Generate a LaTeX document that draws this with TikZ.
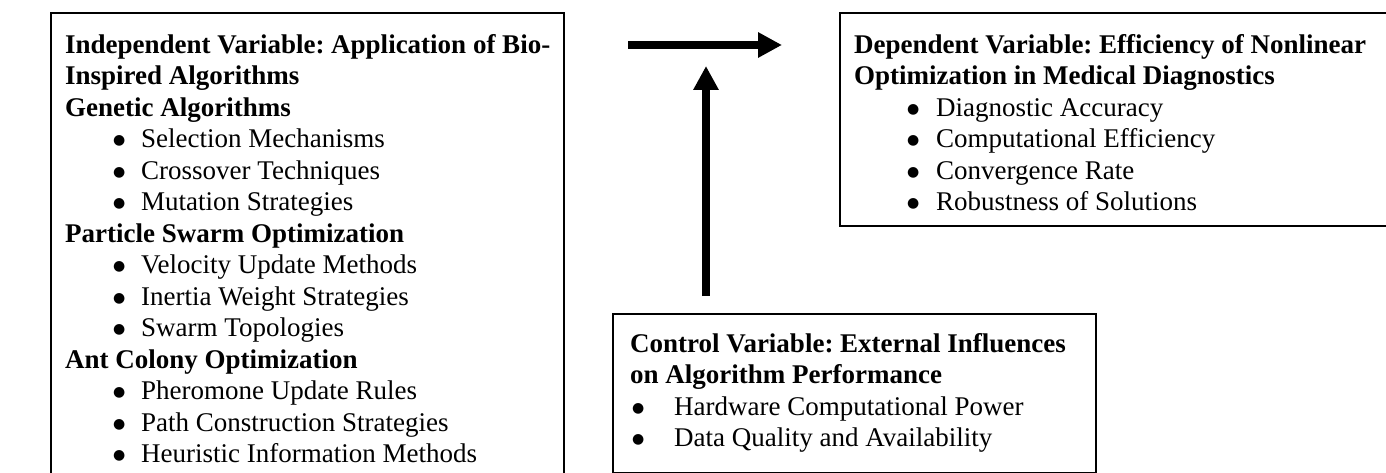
\documentclass[tikz,border=0pt]{standalone}
\usepackage{fontspec}
\setmainfont{Liberation Serif}
\newfontfamily\bulletfont{DejaVu Sans}
\usetikzlibrary{arrows.meta}
\frenchspacing

% bullet line: bullet offset, gap to text, text
\newcommand{\bul}[3]{\hspace*{#1}\makebox[#2][l]{\raisebox{3pt}{\bulletfont\fontsize{14}{14}\selectfont ●}}#3}

\begin{document}
\begin{tikzpicture}[x=1pt, y=-1pt,
    box/.style={rectangle, draw, line width=1.6pt,
                anchor=north west, inner sep=0pt},
    txt/.style={anchor=north west, align=left, inner sep=0pt,
                font=\fontsize{27}{31.5}\selectfont},
    bigarrow/.style={line width=8pt,
                -{Triangle[length=24pt, width=24pt]}}
]
    \useasboundingbox (0,0) rectangle (1386,473);

    % Independent variable
    \node[box, minimum width=513pt, minimum height=520pt] (indep) at (50,12) {};
    \node[txt] (indeptxt) at (65,34)
        {\textbf{Independent Variable: Application of Bio-}\\
         \textbf{Inspired Algorithms}\\
         \textbf{Genetic Algorithms}\\
         \bul{48pt}{28pt}{Selection Mechanisms}\\
         \bul{48pt}{28pt}{Crossover Techniques}\\
         \bul{48pt}{28pt}{Mutation Strategies}\\
         \textbf{Particle Swarm Optimization}\\
         \bul{48pt}{28pt}{Velocity Update Methods}\\
         \bul{48pt}{28pt}{Inertia Weight Strategies}\\
         \bul{48pt}{28pt}{Swarm Topologies}\\
         \textbf{Ant Colony Optimization}\\
         \bul{48pt}{28pt}{Pheromone Update Rules}\\
         \bul{48pt}{28pt}{Path Construction Strategies}\\
         \bul{48pt}{28pt}{Heuristic Information Methods}};

    % Dependent variable
    \node[box, minimum width=600pt, minimum height=213pt] (dep) at (839,12) {};
    \node[txt] (deptxt) at (854,34)
        {\textbf{Dependent Variable: Efficiency of Nonlinear}\\
         \textbf{Optimization in Medical Diagnostics}\\
         \bul{53pt}{29pt}{Diagnostic Accuracy}\\
         \bul{53pt}{29pt}{Computational Efficiency}\\
         \bul{53pt}{29pt}{Convergence Rate}\\
         \bul{53pt}{29pt}{Robustness of Solutions}};

    % Control variable
    \node[box, minimum width=483pt, minimum height=159pt] (ctrl) at (612,313) {};
    \node[txt] (ctrltxt) at (630,333)
        {\textbf{Control Variable: External Influences}\\
         \textbf{on Algorithm Performance}\\
         \bul{2pt}{42pt}{Hardware Computational Power}\\
         \bul{2pt}{42pt}{Data Quality and Availability}};

    % Arrows
    \coordinate (hfrom) at (628,45);
    \coordinate (hto)   at (782,45);
    \coordinate (vfrom) at (706,296);
    \coordinate (vto)   at (706,66);
    \draw[bigarrow] (hfrom) -- (hto);
    \draw[bigarrow] (vfrom) -- (vto);

\end{tikzpicture}
\end{document}
